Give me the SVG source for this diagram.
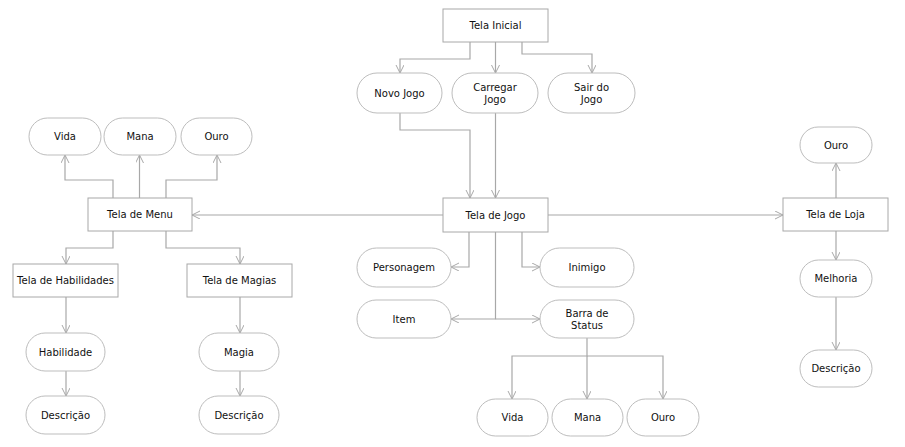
<svg xmlns="http://www.w3.org/2000/svg" width="905" height="447" viewBox="0 0 905 447">
  <style>
    .box { fill: #ffffff; stroke: #a8a8a8; stroke-width: 1; }
    .pill { fill: #ffffff; stroke: #bdbdbd; stroke-width: 1; }
    .edge { fill: none; stroke: #a8a8a8; stroke-width: 1.2; }
    .edge.light { stroke: #c4c4c4; stroke-width: 1.6; }
    text { font-family: "DejaVu Sans", Verdana, sans-serif; font-size: 10px; fill: #111111; text-anchor: middle; dominant-baseline: central; }
  </style>
  <defs>
    <marker id="arrow" markerUnits="userSpaceOnUse" markerWidth="10" markerHeight="10" refX="8" refY="4" orient="auto">
      <path d="M0,0 L8,4 L0,8" fill="none" stroke="#a8a8a8" stroke-width="1"/>
    </marker>
  </defs>

  <!-- connectors -->
  <g id="connectors">
    <!-- start screen -->
    <path class="edge" d="M470,42 V59 H400 V73" marker-end="url(#arrow)"/>
    <path class="edge" d="M495.5,42 V73" marker-end="url(#arrow)"/>
    <path class="edge" d="M522,42 V54 H592 V73" marker-end="url(#arrow)"/>
    <path class="edge" d="M400,113 V130 H470 V198" marker-end="url(#arrow)"/>
    <path class="edge" d="M495.5,113 V198" marker-end="url(#arrow)"/>
    <!-- game screen to menu / shop -->
    <path class="edge light" d="M443,215 H192" marker-end="url(#arrow)"/>
    <path class="edge light" d="M548,215 H783" marker-end="url(#arrow)"/>
    <!-- menu -->
    <path class="edge" d="M113,198 V180 H65 V155" marker-end="url(#arrow)"/>
    <path class="edge" d="M139.5,198 V155" marker-end="url(#arrow)"/>
    <path class="edge" d="M166,198 V180 H217 V155" marker-end="url(#arrow)"/>
    <path class="edge" d="M113,231 V248 H66 V264" marker-end="url(#arrow)"/>
    <path class="edge" d="M166,231 V248 H240 V264" marker-end="url(#arrow)"/>
    <path class="edge" d="M66,297 V333" marker-end="url(#arrow)"/>
    <path class="edge" d="M66,371 V396" marker-end="url(#arrow)"/>
    <path class="edge" d="M240,297 V333" marker-end="url(#arrow)"/>
    <path class="edge" d="M240,371 V396" marker-end="url(#arrow)"/>
    <!-- game screen children -->
    <path class="edge" d="M469,232 V267 H451" marker-end="url(#arrow)"/>
    <path class="edge" d="M522,232 V267 H540" marker-end="url(#arrow)"/>
    <path class="edge" d="M495.5,232 V319 H451" marker-end="url(#arrow)"/>
    <path class="edge" d="M495.5,319 H540" marker-end="url(#arrow)"/>
    <!-- status bar -->
    <path class="edge" d="M587,338 V356 H512 V399" marker-end="url(#arrow)"/>
    <path class="edge" d="M587,356 V399" marker-end="url(#arrow)"/>
    <path class="edge" d="M587,356 H663 V399" marker-end="url(#arrow)"/>
    <!-- shop -->
    <path class="edge" d="M836,198 V163" marker-end="url(#arrow)"/>
    <path class="edge" d="M836,231 V260" marker-end="url(#arrow)"/>
    <path class="edge" d="M836,297 V350" marker-end="url(#arrow)"/>
  </g>

  <!-- nodes -->
  <g id="tela-inicial"><rect class="box" x="443" y="9" width="105" height="33"/><text x="495.5" y="25.5">Tela Inicial</text></g>
  <g id="novo-jogo"><rect class="pill" x="357" y="73" width="85" height="40" rx="20"/><text x="399.5" y="93">Novo Jogo</text></g>
  <g id="carregar-jogo"><rect class="pill" x="452" y="73" width="86" height="40" rx="20"/><text x="495" y="87.5">Carregar</text><text x="495" y="99.5">Jogo</text></g>
  <g id="sair-do-jogo"><rect class="pill" x="548" y="73" width="87" height="40" rx="20"/><text x="591.5" y="87.5">Sair do</text><text x="591.5" y="99.5">Jogo</text></g>

  <g id="tela-de-jogo"><rect class="box" x="443" y="198" width="105" height="34"/><text x="495.5" y="215">Tela de Jogo</text></g>
  <g id="personagem"><rect class="pill" x="357" y="248" width="94" height="39" rx="19.5"/><text x="404" y="267.5">Personagem</text></g>
  <g id="inimigo"><rect class="pill" x="540" y="248" width="94" height="39" rx="19.5"/><text x="587" y="267.5">Inimigo</text></g>
  <g id="item"><rect class="pill" x="357" y="300" width="94" height="38" rx="19"/><text x="404" y="319">Item</text></g>
  <g id="barra-de-status"><rect class="pill" x="540" y="300" width="94" height="38" rx="19"/><text x="587" y="313">Barra de</text><text x="587" y="325">Status</text></g>
  <g id="status-vida"><rect class="pill" x="477" y="399" width="71" height="37" rx="18.5"/><text x="512.5" y="417.5">Vida</text></g>
  <g id="status-mana"><rect class="pill" x="552" y="399" width="71" height="37" rx="18.5"/><text x="587.5" y="417.5">Mana</text></g>
  <g id="status-ouro"><rect class="pill" x="627" y="399" width="72" height="37" rx="18.5"/><text x="663" y="417.5">Ouro</text></g>

  <g id="tela-de-menu"><rect class="box" x="88" y="198" width="104" height="33"/><text x="140" y="214.5">Tela de Menu</text></g>
  <g id="menu-vida"><rect class="pill" x="29" y="118" width="72" height="37" rx="18.5"/><text x="65" y="136.5">Vida</text></g>
  <g id="menu-mana"><rect class="pill" x="104" y="118" width="72" height="37" rx="18.5"/><text x="140" y="136.5">Mana</text></g>
  <g id="menu-ouro"><rect class="pill" x="181" y="118" width="71" height="37" rx="18.5"/><text x="216.5" y="136.5">Ouro</text></g>
  <g id="tela-de-habilidades"><rect class="box" x="13" y="264" width="105" height="33"/><text x="65.5" y="280.5">Tela de Habilidades</text></g>
  <g id="tela-de-magias"><rect class="box" x="187" y="264" width="105" height="33"/><text x="239.5" y="280.5">Tela de Magias</text></g>
  <g id="habilidade"><rect class="pill" x="26" y="333" width="79" height="38" rx="19"/><text x="65.5" y="352">Habilidade</text></g>
  <g id="habilidade-descricao"><rect class="pill" x="26" y="396" width="79" height="38" rx="19"/><text x="65.5" y="415">Descrição</text></g>
  <g id="magia"><rect class="pill" x="199" y="333" width="80" height="38" rx="19"/><text x="239" y="352">Magia</text></g>
  <g id="magia-descricao"><rect class="pill" x="199" y="396" width="80" height="38" rx="19"/><text x="239" y="415">Descrição</text></g>

  <g id="tela-de-loja"><rect class="box" x="783" y="198" width="105" height="33"/><text x="835.5" y="214.5">Tela de Loja</text></g>
  <g id="loja-ouro"><rect class="pill" x="800" y="127" width="72" height="36" rx="18"/><text x="836" y="145">Ouro</text></g>
  <g id="melhoria"><rect class="pill" x="800" y="260" width="72" height="37" rx="18.5"/><text x="836" y="278.5">Melhoria</text></g>
  <g id="loja-descricao"><rect class="pill" x="800" y="350" width="72" height="37" rx="18.5"/><text x="836" y="368.5">Descrição</text></g>
</svg>
